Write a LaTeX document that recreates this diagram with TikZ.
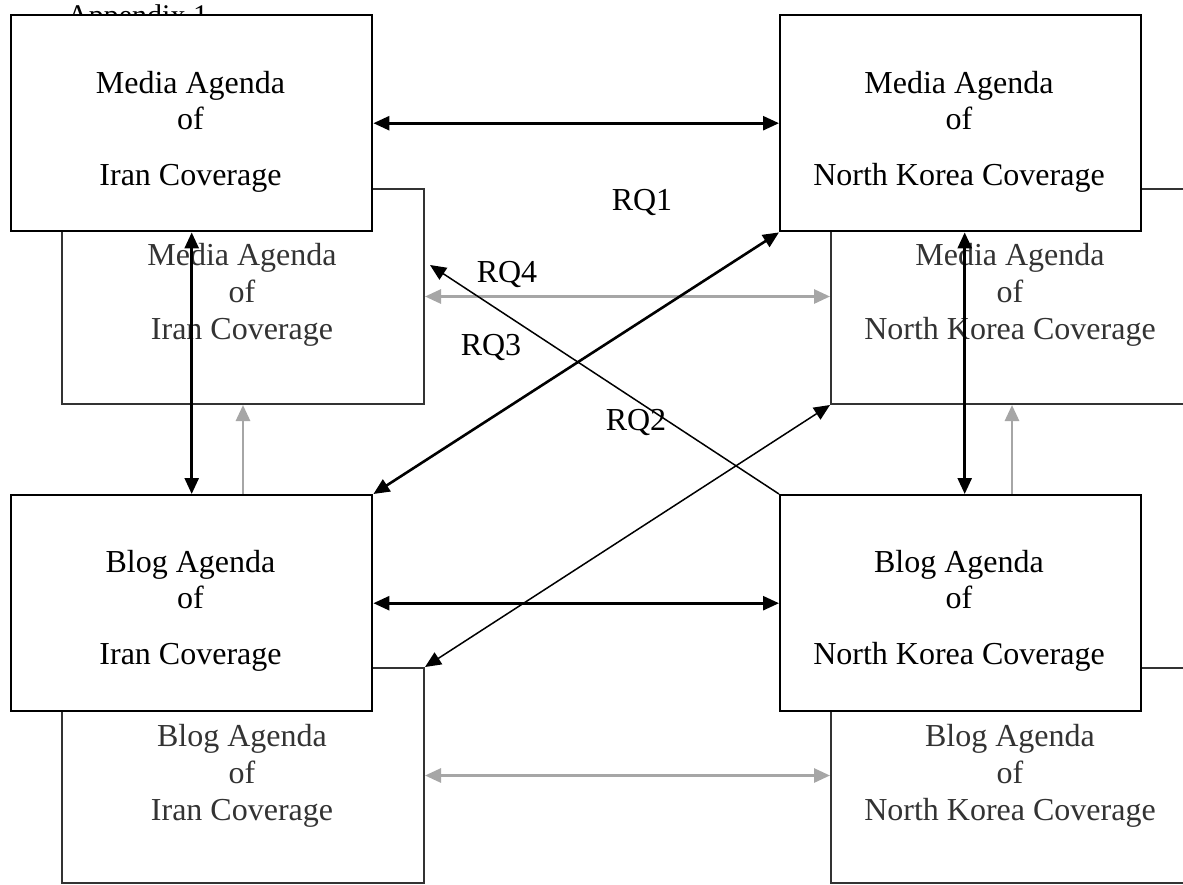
\documentclass[tikz,border=0pt]{standalone}
\usepackage{fontspec}
\setmainfont{Liberation Serif}
\usetikzlibrary{arrows.meta}
\tikzset{
  hd/.tip={Triangle[length=16pt, width=14pt]},
  backbox/.style={draw=black!80, line width=2pt, fill=white, inner sep=0pt,
    minimum width=362pt, minimum height=215pt, anchor=north west},
  frontbox/.style={draw=black, line width=2.4pt, fill=white, inner sep=0pt,
    minimum width=361pt, minimum height=216pt, anchor=north west},
  backtxt/.style={text=black!80, align=center, inner sep=0pt, anchor=north,
    font=\fontsize{32}{37}\selectfont},
  fronttxt/.style={text=black, align=center, inner sep=0pt, anchor=north,
    font=\fontsize{32}{36}\selectfont},
  rq/.style={inner sep=0pt, anchor=base, font=\fontsize{32}{36}\selectfont},
  blk/.style={draw=black, line width=2.6pt, hd-hd},
  blkthin/.style={draw=black, line width=1.5pt},
  gry/.style={draw=black!35, line width=2.8pt}
}
\begin{document}
\begin{tikzpicture}[x=1pt, y=-1pt]
\useasboundingbox (0,0) rectangle (1183,884);
\clip (0,0) rectangle (1183,884);
\fill[white] (0,0) rectangle (1183,884);

% heading (partly hidden)
\node[inner sep=0pt, anchor=base west, font=\fontsize{30}{34}\selectfont] (app) at (67,25) {Appendix 1};

% back boxes
\node[backbox] (tlb) at (61,188) {};
\node[backbox] (trb) at (830,188) {};
\node[backbox] (blb) at (61,667) {};
\node[backbox] (brb) at (830,667) {};
\node[backtxt] (tlbt) at (242,243) {Media Agenda\\of\\Iran Coverage};
\node[backtxt] (trbt) at (1010,243) {Media Agenda\\of\\North Korea Coverage};
\node[backtxt] (blbt) at (242,724) {Blog Agenda\\of\\Iran Coverage};
\node[backtxt] (brbt) at (1010,724) {Blog Agenda\\of\\North Korea Coverage};

% front boxes
\node[frontbox] (tlf) at (10,14) {};
\node[frontbox] (trf) at (779,14) {};
\node[frontbox] (blf) at (10,494) {};
\node[frontbox] (brf) at (779,494) {};
\node[fronttxt] (tlft) at (190.5,71) {Media Agenda\\of\\[20pt]Iran Coverage};
\node[fronttxt] (trft) at (959,71) {Media Agenda\\of\\[20pt]North Korea Coverage};
\node[fronttxt] (blft) at (190.5,550) {Blog Agenda\\of\\[20pt]Iran Coverage};
\node[fronttxt] (brft) at (959,550) {Blog Agenda\\of\\[20pt]North Korea Coverage};

% grey connectors
\draw[gry, hd-hd] (tlb.east) -- (trb.west);
\draw[gry, hd-hd] (blb.east) -- (brb.west);
\draw[gry, -hd] (tlb.south |- blf.north) -- (tlb.south);
\draw[gry, -hd] (trb.south |- brf.north) -- (trb.south);

% black connectors
\draw[blk] (tlf.east) -- (trf.west);
\draw[blk] (blf.east) -- (brf.west);
\draw[blk] (tlf.south) -- (blf.north);
\draw[blk] ([xshift=4pt]trf.south) -- ([xshift=4pt]brf.north);
\draw[blk] (trf.south west) -- (blf.north east);

% thin diagonals
\coordinate (q4) at (430,265);
\draw[blkthin, -hd] (brf.north west) -- (q4);
\draw[blkthin, hd-hd] (blb.north east) -- (trb.south west);

% labels
\node[rq] (rq1) at (642,210) {RQ1};
\node[rq] (rq4) at (507,282) {RQ4};
\node[rq] (rq3) at (491,355) {RQ3};
\node[rq] (rq2) at (636,430) {RQ2};
\end{tikzpicture}
\end{document}
